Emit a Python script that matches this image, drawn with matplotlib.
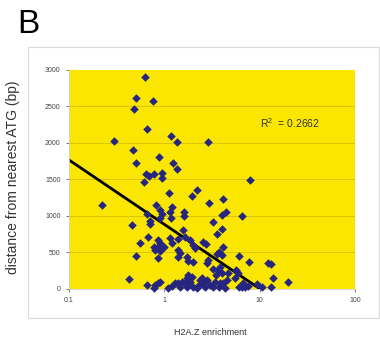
import numpy as np
import matplotlib
matplotlib.use('Agg')
import matplotlib.pyplot as plt
from matplotlib.patches import Rectangle

plt.rcParams['font.family'] = ['Liberation Sans', 'DejaVu Sans']
plt.rcParams['mathtext.default'] = 'regular'

# H2A.Z enrichment (x) vs distance from nearest ATG in bp (y)
enrichment = [
    0.63, 0.51, 0.76, 0.48, 0.65, 0.30, 1.17, 1.35, 2.85, 0.47, 0.87, 0.51, 1.22, 1.37,
    0.64, 0.69, 0.78, 0.94, 0.94,
    0.61, 1.12, 1.94, 2.19, 0.22, 0.82, 1.19, 1.15, 0.90, 0.94, 1.61, 1.61, 0.66, 0.71,
    0.71, 0.89, 1.17, 0.455, 1.58, 0.68, 0.86, 0.90, 0.98, 0.86, 0.77, 0.80, 0.90, 0.85,
    0.55, 1.15, 1.19, 1.40, 1.65, 1.86, 2.02, 2.09, 2.53, 2.73, 1.40, 1.46, 1.40, 0.51,
    1.71, 1.78, 2.02, 2.78, 1.78, 1.94, 1.71, 1.86, 0.43, 0.65, 0.80, 0.77, 0.86, 0.90,
    1.10, 1.19, 1.29, 1.40, 1.52, 1.46, 1.71, 1.65, 2.47, 2.57, 2.67,
    7.9, 2.95, 4.16, 4.0, 4.44, 6.58, 3.27, 4.0, 3.54, 4.16, 3.7, 4.0, 3.54, 6.1,
    2.89, 7.8, 12.3, 13.1, 3.27, 3.67, 3.8, 3.49, 4.0, 4.7, 5.6, 5.95, 2.37, 2.78,
    3.0, 2.2, 3.4, 3.8, 3.7, 3.27, 4.3, 4.5, 4.16, 5.5, 6.0, 6.5, 7.0, 7.6, 6.7,
    9.3, 10.7, 13.3, 13.9, 19.6, 2.0, 2.3,
]
distance = [
    2900, 2610, 2570, 2460, 2190, 2030, 2100, 2020, 2020, 1900, 1810, 1720, 1720, 1650,
    1570, 1550, 1580, 1585, 1515,
    1460, 1320, 1275, 1360, 1150, 1150, 1120, 1060, 1075, 1025, 1060, 1005, 1025, 935,
    890, 970, 970, 877, 808, 708, 671, 626, 579, 571, 571, 534, 521, 421,
    634, 694, 626, 681, 716, 671, 603, 566, 648, 616, 534, 489, 443, 452,
    434, 388, 374, 352, 192, 169, 147, 100, 133, 55, 55, 10, 78, 100,
    10, 41, 78, 78, 100, 32, 32, 78, 147, 78, 32,
    1490, 1180, 1233, 1014, 1050, 1004, 913, 818, 753, 580, 511, 466, 479, 457,
    397, 374, 361, 338, 270, 260, 306, 192, 215, 224, 260, 215, 123, 123,
    55, 10, 100, 78, 23, 32, 10, 123, 78, 147, 32, 23, 32, 41, 78,
    68, 32, 23, 155, 92, 30, 60,
]

# logarithmic trendline y = a*ln(x) + b
trend_a = -383
trend_b = 885
r_squared = 0.2662

x_ticks = [0.1, 1, 10, 100]
x_tick_labels = ['0.1', '1', '10', '100']
y_ticks = [0, 500, 1000, 1500, 2000, 2500, 3000]

fig = plt.figure(figsize=(3.8, 3.44), dpi=100)
fig.patches.append(Rectangle((0.0737, 0.0756), 0.924, 0.788, transform=fig.transFigure,
                             fill=False, edgecolor='#d9d9d9', linewidth=0.8))

ax = fig.add_axes([0.1816, 0.160, 0.7526, 0.6366])
ax.set_facecolor('#fae600')
ax.set_xscale('log')
ax.set_xlim(0.1, 100)
ax.set_ylim(0, 3000)

for y in y_ticks[1:-1]:
    ax.axhline(y, color='#d8c600', linewidth=0.7, zorder=1)

tx = np.logspace(-1, 2, 200)
ax.plot(tx, trend_a * np.log(tx) + trend_b, color='black', linewidth=2.0, zorder=2)
ax.scatter(enrichment, distance, marker='D', s=19, color='#262680', linewidths=0,
           zorder=3, clip_on=False)

ax.set_xticks(x_ticks)
ax.set_xticklabels(x_tick_labels)
ax.xaxis.set_minor_locator(matplotlib.ticker.NullLocator())
ax.set_yticks(y_ticks)
ax.tick_params(labelsize=5, colors='#444444', length=2, width=0.5, pad=4)
for s in ['top', 'right']:
    ax.spines[s].set_visible(False)
for s in ['left', 'bottom']:
    ax.spines[s].set_color('#d0d0d0')
    ax.spines[s].set_linewidth(0.6)

ax.text(0.667, 0.758, 'R$^2$  = ' + f'{r_squared:.4f}', transform=ax.transAxes,
        fontsize=7.5, color='#333333', va='center')

fig.text(0.553, 0.032, 'H2A.Z enrichment', fontsize=6.5, color='#333333', ha='center', va='center')
fig.text(0.034, 0.485, 'distance from nearest ATG (bp)', fontsize=10, color='#333333',
         rotation=90, ha='center', va='center')
fig.text(0.045, 0.93, 'B', fontsize=24, color='black', va='center')

fig.savefig('out.png', dpi=100)
